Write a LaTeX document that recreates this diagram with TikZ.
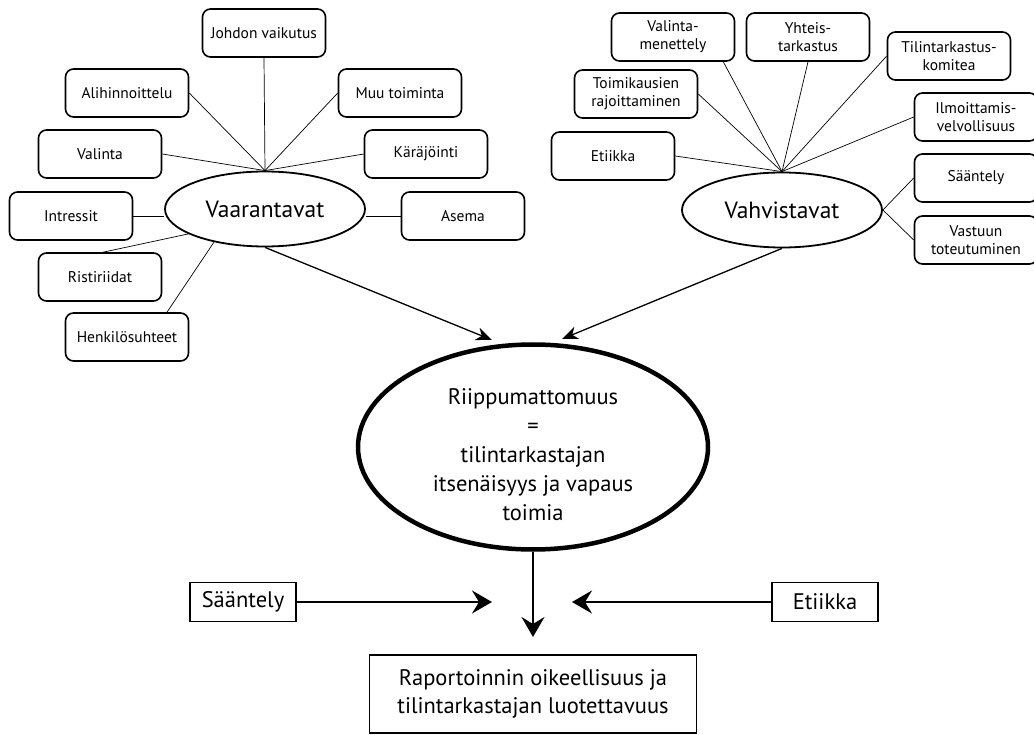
\documentclass[tikz,border=0pt]{standalone}
\usepackage{fontspec}
\setmainfont{PT Sans}
\usetikzlibrary{arrows.meta, shapes.geometric}

\tikzset{
    leaf/.style={draw, rounded corners=8pt, line width=1.6pt, minimum width=123pt,
        minimum height=48pt, inner sep=2pt, align=center, font=\fontsize{15.5}{18}\selectfont},
    hub/.style={draw, ellipse, line width=1.8pt, minimum width=200pt, minimum height=75pt,
        font=\fontsize{23.5}{26}\selectfont},
    plainbox/.style={draw, line width=1.6pt, align=center, font=\fontsize{22.5}{28}\selectfont},
    spoke/.style={line width=0.7pt},
    feed/.style={line width=1.3pt, -{Stealth[length=16pt, width=13pt, inset=5pt]}},
    heavy/.style={line width=2pt, -{Stealth[length=20pt, width=23pt, inset=7pt]}}
}

\begin{document}
\begin{tikzpicture}[x=1pt, y=-1pt]
    \useasboundingbox (0,0) rectangle (1034,735);

    % Vaarantavat
    \node[hub] (vaar) at (265,209) {Vaarantavat};
    \node[leaf] (johdon) at (264,33) {Johdon vaikutus};
    \node[leaf] (alih) at (127,93) {Alihinnoittelu};
    \node[leaf] (muu) at (400,93) {Muu toiminta};
    \node[leaf] (valinta) at (100,154) {Valinta};
    \node[leaf] (karaj) at (426,154) {Käräjöinti};
    \node[leaf] (intr) at (71,216) {Intressit};
    \node[leaf] (asema) at (463,216) {Asema};
    \node[leaf] (rist) at (100,277) {Ristiriidat};
    \node[leaf] (henk) at (127,337) {Henkilösuhteet};

    \draw[spoke] (johdon.south) -- (vaar.north);
    \foreach \n in {alih, valinta} {
        \draw[spoke] (\n.east) -- (vaar.north);
    }
    \foreach \n in {muu, karaj} {
        \draw[spoke] (\n.west) -- (vaar.north);
    }
    \draw[spoke] (intr.east) -- (intr.east -| vaar.west);
    \draw[spoke] (asema.west) -- (asema.west -| vaar.east);
    \draw[spoke] ([xshift=3pt]rist.north) -- (vaar.198);
    \draw[spoke] ([xshift=40pt]henk.north) -- (vaar.213);

    % Vahvistavat
    \node[hub] (vahv) at (782,210) {Vahvistavat};
    \node[leaf] (valmen) at (673,37) {Valinta-\\menettely};
    \node[leaf] (yht) at (808,37) {Yhteis-\\tarkastus};
    \node[leaf] (tkk) at (949,56) {Tilintarkastus-\\komitea};
    \node[leaf] (toimi) at (636,94) {Toimikausien\\rajoittaminen};
    \node[leaf] (ilmo) at (976,117) {Ilmoittamis-\\velvollisuus};
    \node[leaf] (etiikka) at (613,156) {Etiikka};
    \node[leaf] (saant) at (976,178) {Sääntely};
    \node[leaf] (vast) at (976,240) {Vastuun\\toteutuminen};

    \draw[spoke] ([xshift=-12pt]valmen.south east) -- (vahv.north);
    \draw[spoke] (yht.south) -- (vahv.north);
    \foreach \n in {tkk, ilmo} {
        \draw[spoke] (\n.west) -- (vahv.north);
    }
    \foreach \n in {toimi, etiikka} {
        \draw[spoke] (\n.east) -- (vahv.north);
    }
    \draw[spoke] (vahv.east) -- (saant.west);
    \draw[spoke] (vahv.east) -- (vast.west);

    % Riippumattomuus
    \node[draw, ellipse, line width=4.5pt, minimum width=350pt, minimum height=205pt] (indep) at (533,447) {};
    \node[align=center, font=\fontsize{22.5}{29}\selectfont] (indeptext) at (533,455)
        {Riippumattomuus\\=\\tilintarkastajan\\itsenäisyys ja vapaus\\toimia};

    \coordinate (lefttip) at (492,340);
    \coordinate (righttip) at (562,339);
    \draw[feed] (vaar.south) -- (lefttip);
    \draw[feed] (vahv.south) -- (righttip);

    % alaosa
    \node[plainbox, minimum width=106pt, minimum height=39pt] (sreg) at (243,602) {Sääntely};
    \node[plainbox, minimum width=106pt, minimum height=39pt] (seth) at (825,602) {Etiikka};
    \node[plainbox, minimum width=327pt, minimum height=78pt] (report) at (533,694)
        {Raportoinnin oikeellisuus ja\\tilintarkastajan luotettavuus};

    \coordinate (downtip) at (533,637);
    \coordinate (sregtip) at (492,602);
    \coordinate (sethtip) at (572,602);
    \draw[heavy] (indep.south) -- (downtip);
    \draw[heavy] (sreg.east) -- (sregtip);
    \draw[heavy] (seth.west) -- (sethtip);
\end{tikzpicture}
\end{document}
